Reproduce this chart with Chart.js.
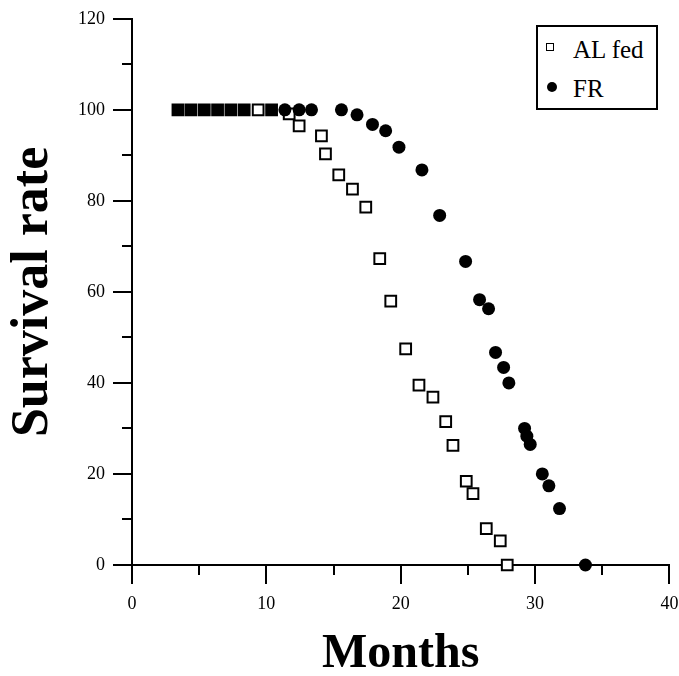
<!DOCTYPE html>
<html>
<head>
<meta charset="utf-8">
<script src="https://cdn.jsdelivr.net/npm/chart.js@4.4.1/dist/chart.umd.min.js"></script>
<style>
  html, body { margin: 0; padding: 0; background: #fff; }
  #wrap { position: relative; width: 679px; height: 676px; }
  #legend { position: absolute; left: 536px; top: 25px; width: 122px; height: 85px;
            border: 2px solid #000; box-sizing: border-box; background: #fff;
            font-family: 'Liberation Serif', 'Times New Roman', serif; font-size: 25px; color: #000; }
  #legend .txt { position: absolute; left: 35px; line-height: 25px; white-space: nowrap; }
  #legend .sq { position: absolute; width: 8px; height: 8px; border: 1.5px solid #000; box-sizing: border-box; background: #fff; }
  #legend .ci { position: absolute; width: 10px; height: 10px; border-radius: 50%; background: #000; }
</style>
</head>
<body>
<div id="wrap">
  <canvas id="c" width="679" height="676"></canvas>
  <div id="legend"></div>
</div>
<script>
// ---- Data ----
const alFedMonths = [9.39, 11.7, 12.44, 14.1, 14.4, 15.39, 16.41, 17.4, 18.44, 19.26, 20.37, 21.36, 22.4, 23.35, 23.89, 24.88, 25.38, 26.37, 27.41, 27.93];
const alFedSurvival = [100, 99.1, 96.5, 94.3, 90.3, 85.7, 82.6, 78.6, 67.3, 58.0, 47.5, 39.5, 36.9, 31.5, 26.3, 18.4, 15.7, 8.0, 5.3, 0];

const frMonths = [11.38, 12.44, 13.36, 15.59, 16.75, 17.9, 18.88, 19.87, 21.58, 22.9, 24.83, 25.87, 26.54, 27.06, 27.66, 28.05, 29.22, 29.39, 29.64, 30.54, 31.03, 31.82, 33.75];
const frSurvival = [100, 100, 100, 100, 98.9, 96.8, 95.4, 91.8, 86.8, 76.8, 66.7, 58.3, 56.3, 46.7, 43.4, 40.0, 30.0, 28.3, 26.5, 20.0, 17.4, 12.4, 0];

// months where both groups coincide at 100% (drawn as solid squares)
const bothMonths = [3.42, 4.39, 5.38, 6.37, 7.36, 8.35, 10.39];
const bothSurvival = [100, 100, 100, 100, 100, 100, 100];

const seriesLabels = ['AL fed', 'FR'];
const xTitle = 'Months';
const yTitle = 'Survival rate';
const xMinorTicks = [5, 15, 25, 35];
const yMinorTicks = [10, 30, 50, 70, 90, 110];

const toPoints = (xs, ys) => xs.map((x, i) => ({ x: x, y: ys[i] }));

const minorTickPlugin = {
  id: 'minorTicks',
  afterDraw(chart) {
    const { ctx, chartArea, scales } = chart;
    ctx.save();
    ctx.strokeStyle = '#000';
    ctx.lineWidth = 2;
    yMinorTicks.forEach(v => {
      const py = Math.round(scales.y.getPixelForValue(v));
      ctx.beginPath();
      ctx.moveTo(chartArea.left - 10, py);
      ctx.lineTo(chartArea.left, py);
      ctx.stroke();
    });
    xMinorTicks.forEach(v => {
      const px = Math.round(scales.x.getPixelForValue(v));
      ctx.beginPath();
      ctx.moveTo(px, chartArea.bottom);
      ctx.lineTo(px, chartArea.bottom + 10);
      ctx.stroke();
    });
    ctx.restore();
  }
};

const serif = "'Liberation Serif', 'Times New Roman', serif";

new Chart(document.getElementById('c'), {
  type: 'scatter',
  data: {
    datasets: [
      {
        label: seriesLabels[0],
        data: toPoints(alFedMonths, alFedSurvival),
        pointStyle: 'rect',
        pointRadius: 7.6,
        pointBorderWidth: 2,
        pointBackgroundColor: '#fff',
        pointBorderColor: '#000',
        order: 2,
        clip: false
      },
      {
        label: seriesLabels[1],
        data: toPoints(frMonths, frSurvival),
        pointStyle: 'circle',
        pointRadius: 6.5,
        pointBorderWidth: 0,
        pointBackgroundColor: '#000',
        pointBorderColor: '#000',
        order: 1,
        clip: false
      },
      {
        label: 'both',
        data: toPoints(bothMonths, bothSurvival),
        pointStyle: 'rect',
        pointRadius: 7.6,
        pointBorderWidth: 2,
        pointBackgroundColor: '#000',
        pointBorderColor: '#000',
        order: 3,
        clip: false
      }
    ]
  },
  options: {
    responsive: false,
    animation: false,
    layout: { padding: { top: 18, right: 9, left: 0, bottom: 0 } },
    plugins: {
      legend: { display: false },
      tooltip: { enabled: false }
    },
    scales: {
      x: {
        type: 'linear',
        min: 0, max: 40,
        afterFit(scale) { scale.height = 111; scale.paddingRight = 0; scale.paddingLeft = 0; },
        ticks: { stepSize: 10, color: '#000', padding: 9, font: { family: serif, size: 18 }, maxRotation: 0 },
        grid: { drawOnChartArea: false, drawTicks: true, tickLength: 19, color: '#000', lineWidth: 2 },
        border: { display: true, color: '#000', width: 2 },
        title: { display: true, text: xTitle, color: '#000', padding: { top: 0, bottom: 0 },
                 font: { family: serif, size: 48, weight: 'bold', lineHeight: 0.9 } }
      },
      y: {
        type: 'linear',
        min: 0, max: 120,
        afterFit(scale) { scale.width = 132; },
        ticks: { stepSize: 20, color: '#000', padding: 8, font: { family: serif, size: 18 } },
        grid: { drawOnChartArea: false, drawTicks: true, tickLength: 19, color: '#000', lineWidth: 2 },
        border: { display: true, color: '#000', width: 2 },
        title: { display: true, text: yTitle, color: '#000', padding: { top: 8, bottom: 0 },
                 font: { family: serif, size: 52, weight: 'bold', lineHeight: 1 } }
      }
    }
  },
  plugins: [minorTickPlugin]
});

// HTML legend built from the series labels
const legend = document.getElementById('legend');
legend.innerHTML =
  '<span class="sq" style="left:7.5px;top:16px"></span>' +
  '<span class="txt" style="top:10px">' + seriesLabels[0] + '</span>' +
  '<span class="ci" style="left:8.7px;top:55px"></span>' +
  '<span class="txt" style="top:49px">' + seriesLabels[1] + '</span>';
</script>
</body>
</html>
